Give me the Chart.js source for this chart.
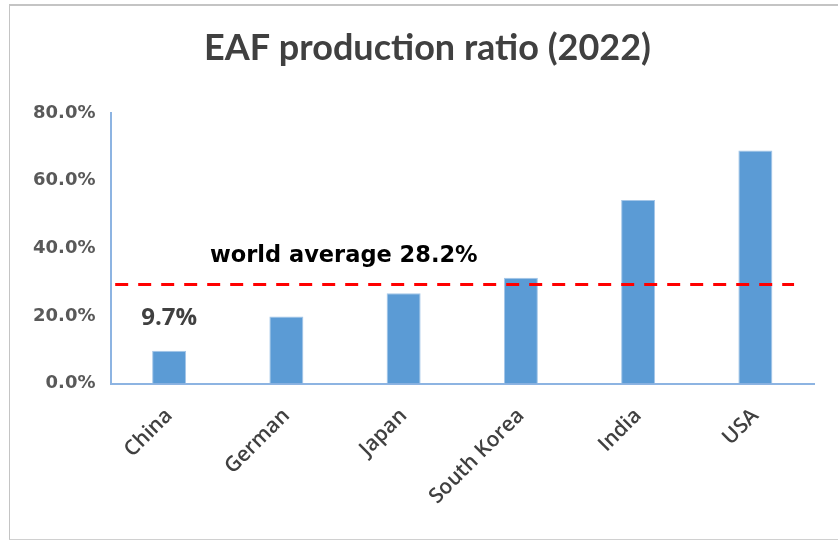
<!DOCTYPE html>
<html>
<head>
<meta charset="utf-8">
<script src="https://cdn.jsdelivr.net/npm/chart.js@4.4.1/dist/chart.umd.min.js"></script>
<style>
  html, body { margin: 0; padding: 0; background: #ffffff; }
  #frame { position: absolute; left: 9px; top: 4px; width: 840px; height: 533px;
           border-left: 1px solid #c4c4c4; border-top: 2px solid #c4c4c4; border-bottom: 1px solid #d0d0d0; }
  #wrap { position: absolute; left: 0; top: 0; width: 838px; height: 540px; }
</style>
</head>
<body>
<div id="frame"></div>
<div id="wrap"><canvas id="c" width="838" height="540"></canvas></div>
<script>
// ---- data ----
const categories = ['China', 'German', 'Japan', 'South Korea', 'India', 'USA'];
const eafRatio = [9.7, 19.8, 26.7, 31.3, 54.3, 68.9];   // percent
const worldAverageLine = 29.3;                           // where the dashed line is drawn
const worldAverageText = 'world average 28.2%';
const chinaLabelText = '9.7%';
const yTicks = [0, 20, 40, 60, 80];
const avgLineSpan = [0.04, 5.83];   // extent of dashed line in category units
const avgLabelPos = [1.99, 37.7];   // [category units, percent]
const chinaLabelPos = [0.5, 19.4];

const axisColor = '#8DB4E2';

const labelPlugin = {
  id: 'labels',
  afterDatasetsDraw(chart) {
    const ctx = chart.ctx;
    const x2 = chart.scales.x2, y = chart.scales.y;
    ctx.save();
    ctx.textAlign = 'center';
    ctx.textBaseline = 'middle';
    ctx.fillStyle = '#000000';
    ctx.font = 'bold 22.5px "DejaVu Sans"';
    ctx.fillText(worldAverageText, x2.getPixelForValue(avgLabelPos[0]), y.getPixelForValue(avgLabelPos[1]));
    ctx.fillStyle = '#404040';
    ctx.font = 'bold 24px "Open Sans"';
    ctx.fillText(chinaLabelText, x2.getPixelForValue(chinaLabelPos[0]), y.getPixelForValue(chinaLabelPos[1]));
    ctx.restore();
  }
};

new Chart(document.getElementById('c'), {
  type: 'bar',
  data: {
    labels: categories,
    datasets: [
      {
        type: 'line',
        xAxisID: 'x2',
        yAxisID: 'y',
        order: 0,
        data: [{x: avgLineSpan[0], y: worldAverageLine}, {x: avgLineSpan[1], y: worldAverageLine}],
        borderColor: '#FF0000',
        borderWidth: 3,
        borderDash: [13, 10],
        pointRadius: 0,
        fill: false
      },
      {
        type: 'bar',
        xAxisID: 'x',
        yAxisID: 'y',
        order: 1,
        grouped: false,
        data: eafRatio,
        backgroundColor: '#5B9BD5',
        borderColor: '#A4C6E8',
        borderWidth: 1,
        barPercentage: 0.29,
        categoryPercentage: 1.0
      }
    ]
  },
  options: {
    responsive: false,
    animation: false,
    devicePixelRatio: 1,
    layout: { padding: { left: 17, right: 0, top: 0, bottom: 0 } },
    plugins: {
      legend: { display: false },
      tooltip: { enabled: false },
      title: {
        display: true,
        text: 'EAF production ratio (2022)',
        color: '#404040',
        font: { family: 'Lato, sans-serif', size: 36, weight: 'bold', lineHeight: 1.2 },
        padding: { top: 27, bottom: 42.8 }
      }
    },
    scales: {
      x: {
        type: 'category',
        offset: true,
        grid: { display: false, drawTicks: false },
        border: { display: true, color: axisColor, width: 2 },
        ticks: {
          color: '#404040',
          font: { family: '"Open Sans"', size: 21, weight: '600' },
          minRotation: 45, maxRotation: 45,
          padding: 20
        },
        afterFit(s) { s.height = 156.5; }
      },
      x2: {
        type: 'linear',
        min: 0, max: 6,
        offset: false,
        grid: { offset: false },
        display: false
      },
      y: {
        min: 0, max: 80,
        position: 'left',
        afterBuildTicks(s) { s.ticks = yTicks.map(v => ({ value: v })); },
        grid: { display: false, drawTicks: false },
        border: { display: true, color: axisColor, width: 2 },
        ticks: {
          color: '#595959',
          font: { family: '"DejaVu Sans"', size: 18, weight: 'bold' },
          padding: 15,
          callback: v => v.toFixed(1) + '%'
        },
        afterFit(s) { s.width = 93.5; }
      },
      yRightSpace: {
        type: 'linear',
        position: 'right',
        display: true,
        grid: { display: false, drawTicks: false },
        border: { display: false },
        ticks: { display: false },
        afterFit(s) { s.width = 24; }
      }
    }
  },
  plugins: [labelPlugin]
});
</script>
</body>
</html>
